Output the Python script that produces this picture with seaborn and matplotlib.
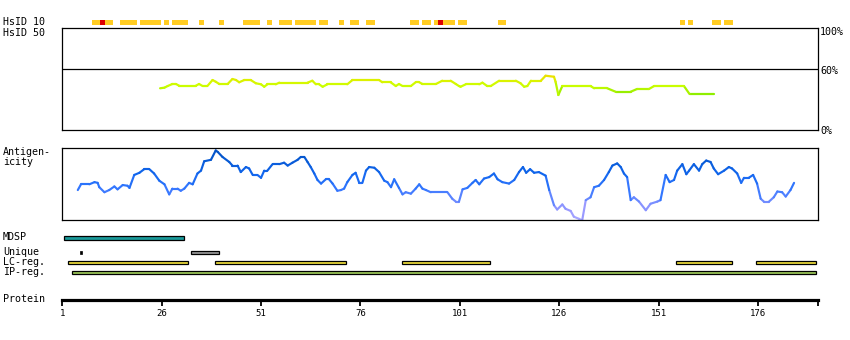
import matplotlib
matplotlib.use("Agg")
import matplotlib.pyplot as plt
from matplotlib.colors import LinearSegmentedColormap
import numpy as np
import pandas as pd
import seaborn as sns

sns.set_theme(style="white")
plt.rcParams["font.family"] = ["DejaVu Sans Mono", "DejaVu Sans"]

# ---------------------------------------------------------------- data
protein_length = 190
tick_residues = [1, 26, 51, 76, 101, 126, 151, 176]

# HsID 10 hits per residue (orange) and strongest hits (red)
hsid10_hits = [9, 10, 12, 13, 16, 17, 18, 19, 21, 22, 23, 24, 25, 27, 29, 30,
               31, 32, 36, 41, 47, 48, 49, 50, 53, 56, 57, 58, 60, 61, 62, 63,
               64, 66, 67, 71, 74, 75, 78, 79, 89, 90, 92, 93, 95, 97, 98, 99,
               101, 102, 111, 112, 157, 159, 165, 166, 168, 169]
hsid10_top = [11, 96]

# HsID 50 identity profile (%)
identity_pos = [25.6, 26.7, 27.5, 28.7, 29.6, 30.4, 34.6, 35.4, 36.3, 37.5,
                38.8, 39.6, 40.5, 42.6, 43.8, 44.7, 45.5, 46.8, 48.4, 49.7,
                51.0, 51.8, 52.6, 54.7, 55.6, 62.7, 63.9, 64.8, 65.6, 66.5,
                67.7, 72.7, 74.0, 80.7, 81.5, 83.6, 84.9, 85.7, 86.6, 88.7,
                89.9, 90.8, 91.6, 95.0, 96.6, 98.7, 100.0, 100.8, 101.2, 102.5,
                105.9, 106.7, 107.9, 108.8, 110.9, 115.1, 116.3, 117.2, 118.0, 118.9,
                121.4, 122.6, 124.7, 125.1, 125.8, 126.8, 133.9, 134.8, 138.1, 140.2,
                144.0, 145.6, 148.6, 149.9, 157.4, 158.8, 165.0]
identity_pct = [41.2, 41.8, 43.4, 45.4, 45.4, 43.7, 43.7, 45.4, 43.4, 43.4,
                49.3, 47.6, 45.4, 45.4, 50.3, 49.3, 47.1, 49.3, 49.3, 46.1,
                45.1, 42.7, 45.1, 45.1, 46.7, 46.7, 48.6, 45.1, 45.1, 42.7,
                45.1, 45.1, 49.3, 49.3, 47.1, 47.1, 43.4, 45.4, 43.4, 43.4,
                47.1, 47.1, 45.4, 45.4, 48.6, 48.6, 45.4, 43.4, 42.7, 45.1,
                45.1, 46.7, 43.4, 43.4, 48.6, 48.6, 46.1, 42.7, 43.4, 48.6,
                48.6, 53.5, 52.5, 47.6, 34.6, 43.4, 43.4, 41.2, 41.2, 37.8,
                37.8, 40.5, 40.5, 43.4, 43.4, 35.6, 35.6]

# Antigenicity profile (relative score)
antigen_pos = [4.9, 5.7, 7.8, 9.1, 9.9, 10.3, 11.6, 12.8, 14.1, 14.9,
               16.2, 17.4, 17.9, 19.1, 20.4, 21.6, 22.9, 24.1, 25.4, 26.7,
               27.9, 28.7, 30.0, 30.8, 31.7, 32.9, 33.8, 35.0, 35.9, 36.7,
               38.4, 39.6, 40.1, 41.3, 43.0, 43.8, 45.1, 45.9, 47.2, 48.0,
               48.9, 50.1, 51.0, 51.8, 52.6, 53.9, 55.6, 56.8, 57.7, 58.9,
               60.2, 61.0, 61.9, 62.7, 63.5, 64.4, 65.2, 66.1, 67.3, 68.1,
               69.0, 70.2, 71.1, 71.9, 72.7, 74.0, 74.8, 75.7, 76.5, 77.4,
               78.2, 79.5, 80.7, 82.0, 82.8, 83.7, 84.5, 85.7, 86.6, 87.4,
               88.7, 89.9, 90.8, 91.6, 92.5, 93.7, 97.9, 99.1, 100.0, 100.8,
               101.7, 102.9, 104.2, 105.0, 105.9, 107.1, 108.4, 109.6, 110.5, 111.7,
               113.4, 114.7, 115.9, 116.9, 117.7, 118.7, 119.7, 120.9, 122.6, 123.5,
               124.7, 125.5, 126.8, 127.6, 128.9, 129.7, 131.0, 131.8, 132.7, 133.9,
               134.8, 136.0, 137.3, 138.5, 139.4, 140.6, 141.5, 142.3, 143.1, 144.0,
               144.8, 146.1, 147.8, 149.0, 150.7, 151.5, 152.8, 153.8, 154.9, 155.7,
               157.0, 158.0, 158.7, 159.9, 161.2, 162.0, 163.0, 164.1, 164.9, 166.0,
               167.5, 168.7, 169.5, 170.8, 171.8, 172.5, 173.7, 174.8, 175.8, 176.7,
               177.5, 178.8, 180.0, 180.9, 182.1, 183.0, 184.2, 185.1]
antigen_score = [0.42, 0.50, 0.50, 0.53, 0.52, 0.46, 0.39, 0.42, 0.47, 0.43,
                 0.49, 0.48, 0.45, 0.63, 0.66, 0.71, 0.71, 0.65, 0.55, 0.50,
                 0.36, 0.44, 0.44, 0.41, 0.44, 0.52, 0.50, 0.65, 0.69, 0.82,
                 0.84, 0.97, 0.95, 0.88, 0.81, 0.76, 0.76, 0.67, 0.74, 0.72,
                 0.63, 0.63, 0.59, 0.69, 0.69, 0.78, 0.78, 0.80, 0.76, 0.80,
                 0.84, 0.88, 0.88, 0.81, 0.74, 0.65, 0.56, 0.51, 0.57, 0.57,
                 0.51, 0.41, 0.42, 0.44, 0.53, 0.63, 0.66, 0.52, 0.52, 0.69,
                 0.74, 0.73, 0.67, 0.55, 0.53, 0.46, 0.57, 0.45, 0.36, 0.39,
                 0.37, 0.44, 0.50, 0.44, 0.42, 0.39, 0.39, 0.30, 0.26, 0.26,
                 0.43, 0.45, 0.52, 0.56, 0.50, 0.58, 0.60, 0.65, 0.57, 0.53,
                 0.51, 0.56, 0.67, 0.74, 0.66, 0.71, 0.66, 0.67, 0.62, 0.42,
                 0.21, 0.15, 0.22, 0.16, 0.13, 0.05, 0.02, 0.00, 0.28, 0.32,
                 0.46, 0.48, 0.56, 0.67, 0.76, 0.79, 0.74, 0.65, 0.60, 0.28,
                 0.32, 0.26, 0.14, 0.23, 0.26, 0.28, 0.63, 0.53, 0.56, 0.69,
                 0.78, 0.64, 0.69, 0.78, 0.69, 0.78, 0.83, 0.81, 0.72, 0.64,
                 0.69, 0.74, 0.72, 0.65, 0.52, 0.59, 0.59, 0.63, 0.51, 0.30,
                 0.26, 0.26, 0.32, 0.40, 0.39, 0.33, 0.42, 0.52]

# Annotated regions (first residue, last residue)
mdsp_regions = [(2, 31)]
unique_regions = [(6, 6), (34, 40)]
lc_regions = [(3, 32), (40, 72), (87, 108), (156, 169), (176, 190)]
ip_regions = [(4, 190)]

# ---------------------------------------------------------------- layout
W, H = 850, 340
fig = plt.figure(figsize=(W / 100, H / 100), dpi=100)
fig.patch.set_facecolor("white")
X0, X1 = 62.3, 817.5
XLIM = (1, protein_length + 1)
FS = 7.2


def band(y0, y1):
    """Axes spanning the sequence width between two pixel rows."""
    ax = fig.add_axes([X0 / W, 1 - y1 / H, (X1 - X0) / W, (y1 - y0) / H])
    ax.set_xlim(*XLIM)
    ax.set_facecolor("none")
    return ax


def label(x, y, s, ha="left"):
    fig.text(x / W, 1 - y / H, s, fontsize=FS, va="center", ha=ha, color="black")


def boxed(ax):
    ax.set_xticks([])
    ax.set_yticks([])
    ax.set_xlabel("")
    ax.set_ylabel("")
    for sp in ax.spines.values():
        sp.set_visible(True)
        sp.set_color("black")
        sp.set_linewidth(0.9)


def colored_line(ax, pos, val, cmap, norm, lw):
    rows = []
    for i in range(len(pos) - 1):
        level = (val[i] + val[i + 1]) / 2
        rows.append((i, pos[i], val[i], level))
        rows.append((i, pos[i + 1], val[i + 1], level))
    df = pd.DataFrame(rows, columns=["seg", "pos", "val", "level"])
    sns.lineplot(data=df, x="pos", y="val", units="seg", estimator=None,
                 hue="level", palette=cmap, hue_norm=norm, legend=False,
                 linewidth=lw, sort=False, ax=ax)
    for ln in ax.lines:
        ln.set_solid_capstyle("round")
        ln.set_solid_joinstyle("round")


# HsID 10 track
ax10 = band(20, 25)
ax10.set_ylim(0, 1)
ax10.axis("off")
ax10.bar(np.array(hsid10_hits) - 0.5, 1, width=1.25, align="edge",
         color="#ffcc22", linewidth=0)
ax10.bar(np.array(hsid10_top) - 0.5, 1, width=1.25, align="edge",
         color="#dd0000", linewidth=0)
label(3, 22, "HsID 10")

# HsID 50 identity panel
ax50 = band(28.3, 130.3)
ax50.set_ylim(0, 100)
ident_cmap = LinearSegmentedColormap.from_list(
    "ident", [(0.0, "#88ee00"), (0.2, "#99ee00"), (0.35, "#bbf800"),
              (0.5, "#ccff00"), (0.75, "#dcf200"), (1.0, "#eedd00")])
ax50.axhline(60, color="black", linewidth=0.9)
colored_line(ax50, identity_pos, identity_pct, ident_cmap, (34, 54), 1.6)
boxed(ax50)
label(3, 33, "HsID 50")
label(820, 32, "100%")
label(820, 70.5, "60%")
label(820, 130.5, "0%")

# Antigenicity panel
axag = band(148.3, 220.3)
axag.set_ylim(0, 1)
ag_cmap = LinearSegmentedColormap.from_list(
    "antigen", [(0.0, "#aaaaff"), (0.15, "#9999ff"), (0.3, "#6688ff"),
                (0.45, "#3377ff"), (0.65, "#1166ee"), (1.0, "#0050c0")])
colored_line(axag, antigen_pos, antigen_score, ag_cmap, (0, 1), 1.55)
boxed(axag)
label(3, 152, "Antigen-")
label(3, 162, "icity")

# Region tracks
axf = band(230, 282)
axf.set_ylim(282, 230)
axf.axis("off")


def regions(spans, yc, h, color):
    for s, e in spans:
        if s == e:
            axf.barh(yc, 0.4, left=s - 0.5, height=h, color="black",
                     edgecolor="black", linewidth=0.5)
        else:
            axf.barh(yc, e - s + 1, left=s - 0.5, height=h, color=color,
                     edgecolor="black", linewidth=0.9)


regions(mdsp_regions, 238, 4.6, "#1a9a9a")
regions(unique_regions, 252.3, 3.4, "#999999")
regions(lc_regions, 262.5, 3.6, "#eedd3c")
regions(ip_regions, 272.5, 3.6, "#9dc95a")
label(3, 237.5, "MDSP")
label(3, 252, "Unique")
label(3, 262, "LC-reg.")
label(3, 272, "IP-reg.")

# Protein ruler
axp = band(288, 299.5)
axp.set_ylim(0, 1)
for name, sp in axp.spines.items():
    sp.set_visible(name == "bottom")
axp.spines["bottom"].set_linewidth(2.3)
axp.spines["bottom"].set_color("black")
axp.set_yticks([])
axp.set_xticks(tick_residues)
axp.set_xticklabels([str(t) for t in tick_residues])
axp.set_xticks([protein_length + 1], minor=True)
axp.tick_params(axis="x", which="both", bottom=True, direction="out",
                length=4, width=1.3, color="black", pad=3,
                labelsize=6.5, labelcolor="black")
label(3, 299, "Protein")

fig.savefig("out.png", dpi=100, facecolor="white")
